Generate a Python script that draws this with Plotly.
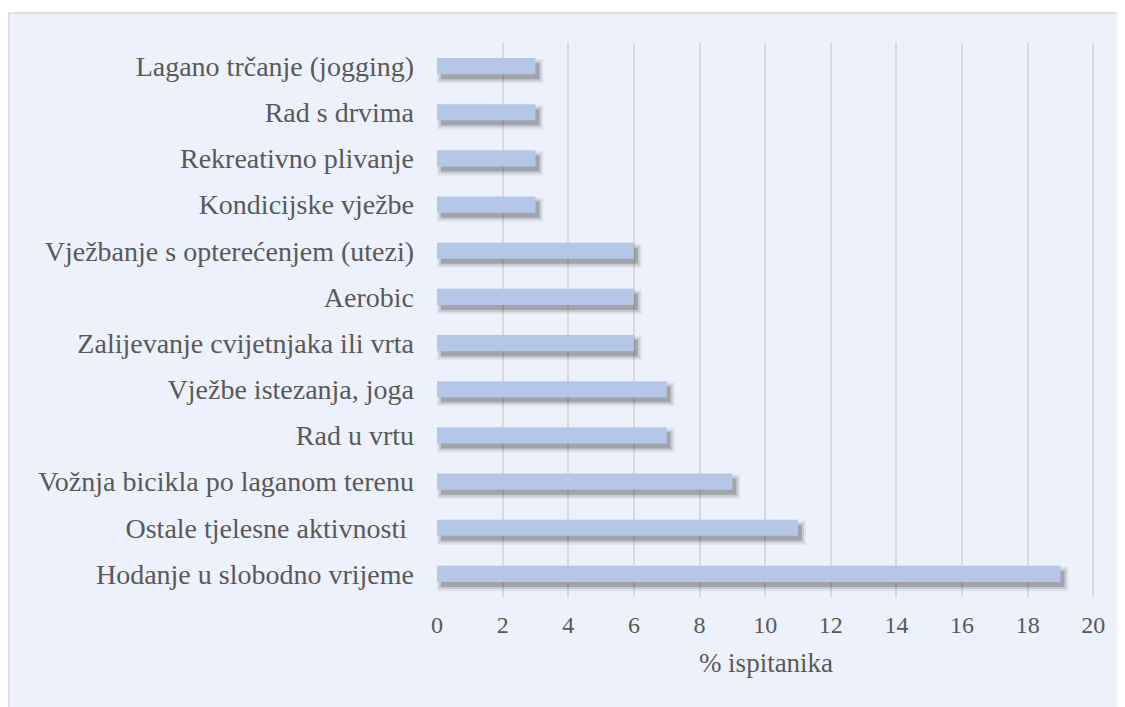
import plotly.graph_objects as go

# Data (bottom to top)
activities = [
    "Hodanje u slobodno vrijeme",
    "Ostale tjelesne aktivnosti\u00a0",
    "Vožnja bicikla po laganom terenu",
    "Rad u vrtu",
    "Vježbe istezanja, joga",
    "Zalijevanje cvijetnjaka ili vrta",
    "Aerobic",
    "Vježbanje s opterećenjem (utezi)",
    "Kondicijske vježbe",
    "Rekreativno plivanje",
    "Rad s drvima",
    "Lagano trčanje (jogging)",
]
percent = [19, 11, 9, 7, 7, 6, 6, 6, 3, 3, 3, 3]
x_ticks = [0, 2, 4, 6, 8, 10, 12, 14, 16, 18, 20]

BAR_COLOR = "#B4C7E7"
BG_COLOR = "#ECF1FB"
GRID_COLOR = "#D9D9D9"
TEXT_COLOR = "#595959"
FONT = "Liberation Serif, Times New Roman, serif"

fig = go.Figure()

# blurred drop shadow: a few stacked translucent layers (base, extra length, offset, width, alpha)
shadow_layers = [
    (0.00, 0.24, -0.369, 0.523, 0.07),
    (0.06, 0.12, -0.326, 0.437, 0.12),
    (0.12, 0.00, -0.283, 0.350, 0.22),
]
for base, extra, off, w, alpha in shadow_layers:
    fig.add_trace(go.Bar(
        y=activities, x=[v + extra for v in percent], base=base,
        orientation="h", offset=off, width=w,
        marker=dict(color=f"rgba(30,30,30,{alpha})", line=dict(width=0)),
        hoverinfo="skip", showlegend=False,
    ))

fig.add_trace(go.Bar(
    y=activities, x=percent, orientation="h",
    offset=-0.175, width=0.35,
    marker=dict(color=BAR_COLOR, line=dict(width=0)),
    showlegend=False,
))

fig.update_layout(
    width=1117, height=699,
    barmode="overlay",
    paper_bgcolor="white",
    plot_bgcolor="rgba(0,0,0,0)",
    margin=dict(l=429, r=30, t=35, b=110),
    font=dict(family=FONT, color=TEXT_COLOR),
    shapes=[dict(
        type="rect", xref="paper", yref="paper",
        x0=-0.651, x1=1.1, y0=-0.25, y1=1.054,
        fillcolor=BG_COLOR, line=dict(color=GRID_COLOR, width=1.5),
        layer="below",
    )],
)

fig.update_xaxes(
    range=[0, 20.05], tickvals=x_ticks, showgrid=True,
    gridcolor=GRID_COLOR, gridwidth=1.5, zeroline=False,
    showline=False, ticks="", tickfont=dict(family=FONT, size=24, color=TEXT_COLOR),
    ticklabelstandoff=11,
    title=dict(text="% ispitanika", font=dict(family=FONT, size=27, color=TEXT_COLOR), standoff=16),
)
fig.update_yaxes(
    categoryorder="array", categoryarray=activities,
    showgrid=False, zeroline=False, showline=False, ticks="",
    tickfont=dict(family=FONT, size=28, color=TEXT_COLOR), ticklabelstandoff=22,
)

fig.write_html("out.html")
